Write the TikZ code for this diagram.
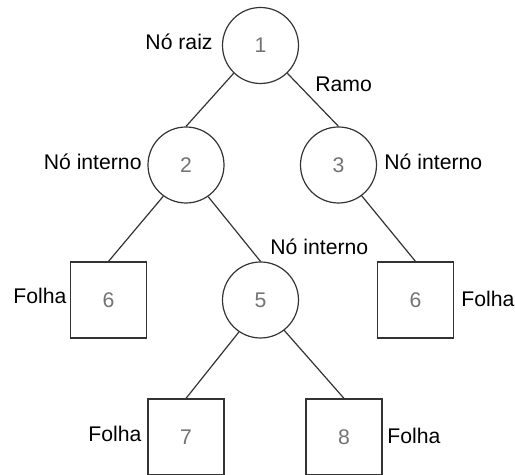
\documentclass[tikz,border=0pt]{standalone}
\usepackage{fontspec}
\setmainfont{Liberation Sans}
\begin{document}
\begin{tikzpicture}[x=0.5pt,y=-0.5pt,
        every node/.style={font=\fontsize{10.6}{12}\selectfont},
        no/.style={draw=black!80, line width=0.6pt, circle, minimum size=38pt, inner sep=0pt, text=black!55},
        folha/.style={draw=black!80, line width=0.6pt, minimum size=38pt, inner sep=0pt, text=black!55},
        rotulo/.style={inner sep=0pt},
        ramo/.style={draw=black!80, line width=0.6pt}]
            \useasboundingbox (0,0) rectangle (515,475);
            % nos da arvore
            \node[no] (n1) at (260.5,45.5) {1};
            \node[no] (n2) at (186,165) {2};
            \node[no] (n3) at (338.5,165) {3};
            \node[no] (n5) at (260.5,300) {5};
            \node[folha] (f6a) at (108.5,300) {6};
            \node[folha] (f6b) at (415.5,300) {6};
            \node[folha] (f7) at (186,437) {7};
            \node[folha] (f8) at (344,437) {8};
            % ramos
            \draw[ramo] (n1.-134) -- (n2.north);
            \draw[ramo] (n1.-46) -- (n3.north);
            \draw[ramo] (n2.-126) -- (f6a.north);
            \draw[ramo] (n2.-55) -- (n5.north);
            \draw[ramo] (n3.-53) -- (f6b.north);
            \draw[ramo] (n5.-124) -- (f7.north);
            \draw[ramo] (n5.-52) -- (f8.north);
            % rotulos
            \node[rotulo, anchor=base east] (lraiz) at (213,50) {Nó raiz};
            \node[rotulo, anchor=base west] (lramo) at (315,92) {Ramo};
            \node[rotulo, anchor=base east] (lint2) at (142,170) {Nó interno};
            \node[rotulo, anchor=base west] (lint3) at (384,170) {Nó interno};
            \node[rotulo, anchor=base west] (lint5) at (270,255) {Nó interno};
            \node[rotulo, anchor=base west] (lf6a) at (13,304) {Folha};
            \node[rotulo, anchor=base west] (lf6b) at (461,307) {Folha};
            \node[rotulo, anchor=base west] (lf7) at (88,442) {Folha};
            \node[rotulo, anchor=base west] (lf8) at (387,444) {Folha};
        \end{tikzpicture}
\end{document}
